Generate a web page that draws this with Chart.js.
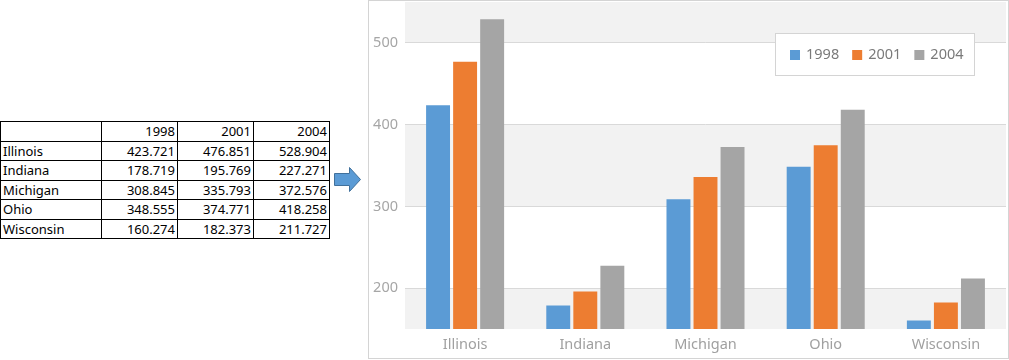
<!DOCTYPE html>
<html>
<head>
<meta charset="utf-8">
<script src="https://cdn.jsdelivr.net/npm/chart.js@4/dist/chart.umd.min.js"></script>
<style>
  body { margin: 0; background: #fff; width: 1009px; height: 360px; position: relative; overflow: hidden; }
  #tbl { position: absolute; left: 0; top: 121px; border-collapse: collapse; font-family: "Noto Sans", sans-serif; font-size: 13px; color: #000; }
  #tbl td { border: 1px solid #000; height: 18.5px; padding: 0 2px; line-height: 18px; }
  #tbl td.n { text-align: right; }
  #arrow { position: absolute; left: 332px; top: 165px; }
  #box { position: absolute; left: 368px; top: 0; width: 639px; height: 357px; border: 1px solid #d4d4d4; }
</style>
</head>
<body>
<table id="tbl"></table>
<svg id="arrow" width="32" height="30" viewBox="0 0 32 30">
  <path d="M2.5 8.5 H17.5 V2.5 L28.5 14.5 L17.5 26.5 V20.5 H2.5 Z" fill="#5b9bd5" stroke="#41719c" stroke-width="1"/>
</svg>
<div id="box"><canvas id="c"></canvas></div>
<script>
// data
const states = ['Illinois', 'Indiana', 'Michigan', 'Ohio', 'Wisconsin'];
const years = ['1998', '2001', '2004'];
const v1998 = [423.721, 178.719, 308.845, 348.555, 160.274];
const v2001 = [476.851, 195.769, 335.793, 374.771, 182.373];
const v2004 = [528.904, 227.271, 372.576, 418.258, 211.727];
const yTicks = [200, 300, 400, 500];
const yMin = 150, yMax = 550;
const colors = ['#5b9bd5', '#ed7d31', '#a5a5a5'];

// table on the left
const series = [v1998, v2001, v2004];
let html = '<tr><td style="width:96px"></td>' + years.map(y => '<td class="n" style="width:71px">' + y + '</td>').join('') + '</tr>';
states.forEach((s, i) => {
    html += '<tr><td>' + s + '</td>' + series.map(arr => '<td class="n">' + arr[i].toFixed(3) + '</td>').join('') + '</tr>';
});
document.getElementById('tbl').innerHTML = html;

const font = '"Noto Sans", sans-serif';
const fsize = 14.5;

// alternating strips between tick lines
const bandsPlugin = {
    id: 'bands',
    beforeDraw(chart) {
        const { ctx, chartArea } = chart;
        const y = chart.scales.y;
        const edges = [yMin, ...yTicks, yMax];
        ctx.save();
        ctx.fillStyle = '#f2f2f2';
        for (let i = 0; i < edges.length - 1; i += 2) {
            const top = y.getPixelForValue(edges[i + 1]);
            const bot = y.getPixelForValue(edges[i]);
            ctx.fillRect(chartArea.left, top, chartArea.right - chartArea.left, bot - top);
        }
        ctx.restore();
    }
};

// floating legend box, top right
const floatLegend = {
    id: 'floatLegend',
    afterDraw(chart) {
        const { ctx, chartArea } = chart;
        const w = 200, h = 43;
        const x0 = chartArea.right - 31 - w, y0 = 32;
        ctx.save();
        ctx.fillStyle = '#fff';
        ctx.fillRect(x0, y0, w, h);
        ctx.strokeStyle = '#d4d4d4';
        ctx.lineWidth = 1;
        ctx.strokeRect(x0 + 0.5, y0 + 0.5, w - 1, h - 1);
        ctx.font = fsize + 'px ' + font;
        ctx.textBaseline = 'middle';
        let x = x0 + 15;
        const cy = y0 + 22;
        chart.data.datasets.forEach(ds => {
            ctx.fillStyle = ds.backgroundColor;
            ctx.fillRect(x, cy - 5, 10, 10);
            x += 16;
            ctx.fillStyle = '#7a7a7a';
            ctx.fillText(ds.label, x, cy);
            x += ctx.measureText(ds.label).width + 13;
        });
        ctx.restore();
    }
};

new Chart(document.getElementById('c'), {
    type: 'bar',
    data: {
        labels: states,
        datasets: years.map((y, i) => ({
            label: y,
            data: series[i],
            backgroundColor: colors[i],
            categoryPercentage: 0.675,
            barPercentage: 0.885
        }))
    },
    options: {
        responsive: true,
        maintainAspectRatio: false,
        animation: false,
        layout: { padding: { top: 1, right: 2, left: 0, bottom: 0 } },
        plugins: {
            legend: { display: false },
            tooltip: { enabled: false }
        },
        scales: {
            x: {
                grid: { display: false, drawTicks: false },
                border: { display: false },
                ticks: { color: '#a0a0a0', font: { family: font, size: fsize }, padding: 7 },
                afterFit(s) { s.height = 29; s.paddingLeft = 0; s.paddingRight = 0; }
            },
            y: {
                min: yMin,
                max: yMax,
                afterBuildTicks(s) { s.ticks = yTicks.map(v => ({ value: v })); },
                grid: { color: '#d9d9d9', drawTicks: false },
                border: { display: false },
                ticks: { color: '#a6a6a6', font: { family: font, size: fsize }, padding: 7 },
                afterFit(s) { s.width = 36; s.paddingTop = 0; s.paddingBottom = 0; }
            }
        }
    },
    plugins: [bandsPlugin, floatLegend]
});
</script>
</body>
</html>
